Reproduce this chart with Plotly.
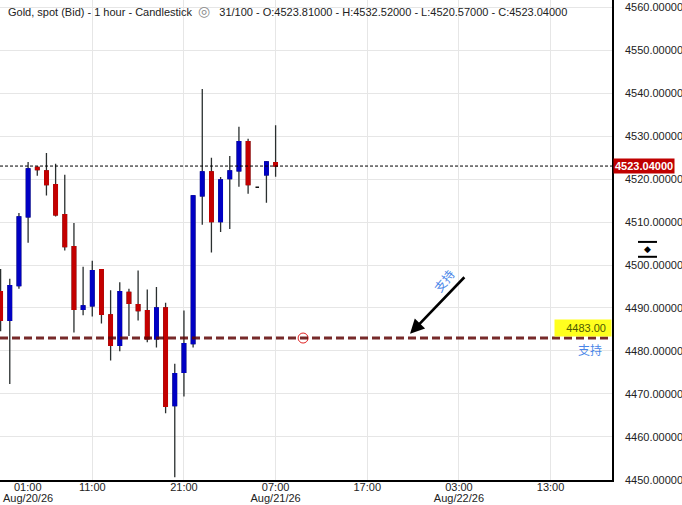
import plotly.graph_objects as go

# ---------------- data ----------------
times = [
    "2026-08-20 01:00", "2026-08-20 02:00", "2026-08-20 03:00", "2026-08-20 04:00",
    "2026-08-20 05:00", "2026-08-20 06:00", "2026-08-20 07:00", "2026-08-20 08:00",
    "2026-08-20 09:00", "2026-08-20 10:00", "2026-08-20 11:00", "2026-08-20 12:00",
    "2026-08-20 13:00", "2026-08-20 14:00", "2026-08-20 15:00", "2026-08-20 16:00",
    "2026-08-20 17:00", "2026-08-20 18:00", "2026-08-20 19:00", "2026-08-20 20:00",
    "2026-08-20 21:00", "2026-08-20 22:00", "2026-08-20 23:00", "2026-08-21 00:00",
    "2026-08-21 01:00", "2026-08-21 02:00", "2026-08-21 03:00", "2026-08-21 04:00",
    "2026-08-21 05:00", "2026-08-21 06:00", "2026-08-21 07:00",
]
open_ = [4493.8, 4487.1, 4495.2, 4511.2, 4522.7, 4521.9, 4518.7, 4511.7,
         4504.3, 4489.7, 4490.5, 4498.9, 4488.4, 4481.3, 4493.6, 4490.8,
         4489.4, 4482.8, 4490.0, 4467.3, 4475.0, 4481.7, 4516.1, 4521.7,
         4510.1, 4520.1, 4521.9, 4528.7, 4518.1, 4521.0, 4523.81]
high = [4499.1, 4496.8, 4512.1, 4524.0, 4523.0, 4526.1, 4523.6, 4521.0,
        4509.8, 4499.6, 4501.0, 4499.1, 4494.1, 4496.0, 4494.5, 4498.7,
        4494.3, 4494.9, 4491.2, 4477.0, 4489.4, 4516.3, 4541.0, 4525.0,
        4520.5, 4525.4, 4532.2, 4529.4, 4518.1, 4524.2, 4532.52]
low = [4484.6, 4472.3, 4494.5, 4505.2, 4520.8, 4516.2, 4511.3, 4503.4,
       4484.3, 4488.3, 4488.0, 4486.4, 4477.8, 4479.9, 4483.5, 4487.1,
       4482.0, 4480.8, 4465.5, 4450.6, 4469.4, 4480.8, 4509.4, 4502.9,
       4507.7, 4508.4, 4518.2, 4516.6, 4518.1, 4514.5, 4520.57]
close = [4487.1, 4495.2, 4511.2, 4522.4, 4522.2, 4518.7, 4511.7, 4504.3,
         4489.7, 4490.5, 4498.7, 4488.5, 4481.3, 4493.8, 4491.1, 4489.4,
         4482.8, 4490.0, 4467.1, 4474.7, 4481.7, 4516.1, 4521.7, 4510.1,
         4519.8, 4521.9, 4528.7, 4518.7, 4518.1, 4524.0, 4523.04]

x_tick_vals = ["2026-08-20 01:00", "2026-08-20 11:00", "2026-08-20 21:00",
               "2026-08-21 07:00", "2026-08-21 17:00", "2026-08-22 03:00",
               "2026-08-22 13:00"]
x_tick_time_text = ["", "11:00", "21:00", "07:00", "17:00", "03:00", "13:00"]
x_tick_date_vals = ["2026-08-21 07:00", "2026-08-22 03:00"]
x_tick_date_text = ["Aug/21/26", "Aug/22/26"]
first_tick_time = "01:00"
first_tick_date = "Aug/20/26"

x_range = ["2026-08-20 00:56", "2026-08-22 19:42"]
y_range = [4449.95, 4561.7]

support_level = 4483.00
support_marker_time = "2026-08-21 10:00"
arrow_head = ("2026-08-21 21:40", 4484.0)
arrow_tail = ("2026-08-22 03:45", 4497.5)
arrow_label_pos = ("2026-08-22 01:20", 4496.3)

title_text = ("Gold, spot (Bid) - 1 hour - Candlestick&nbsp;&nbsp;"
              "<span style='color:#8a8a8a;font-size:14px'>&#9678;</span>&nbsp;&nbsp;"
              " 31/100 - O:4523.81000 - H:4532.52000 - L:4520.57000 - C:4523.04000")

BLUE = "#0000C4"
RED = "#C40000"
WICK = "#2a2f2f"
FONT = "Liberation Sans, Arial, sans-serif"
TXT = "#222222"

# ---------------- traces ----------------
normal = [i for i in range(len(times)) if open_[i] != close[i]]
doji = [i for i in range(len(times)) if open_[i] == close[i]]

def pick(arr, idx):
    return [arr[i] for i in idx]

fig = go.Figure()

# wicks + bodies
fig.add_trace(go.Candlestick(
    x=pick(times, normal), open=pick(open_, normal), high=pick(high, normal),
    low=pick(low, normal), close=pick(close, normal),
    increasing=dict(line=dict(color=WICK, width=1.3), fillcolor=BLUE),
    decreasing=dict(line=dict(color=WICK, width=1.3), fillcolor=RED),
    whiskerwidth=0, showlegend=False, hoverinfo="skip",
))
# body overlay (hides dark outline)
body_hi = [max(open_[i], close[i]) for i in normal]
body_lo = [min(open_[i], close[i]) for i in normal]
fig.add_trace(go.Candlestick(
    x=pick(times, normal), open=pick(open_, normal), high=body_hi,
    low=body_lo, close=pick(close, normal),
    increasing=dict(line=dict(color=BLUE, width=1.3), fillcolor=BLUE),
    decreasing=dict(line=dict(color=RED, width=1.3), fillcolor=RED),
    whiskerwidth=0, showlegend=False, hoverinfo="skip",
))
# doji
fig.add_trace(go.Candlestick(
    x=pick(times, doji), open=pick(open_, doji), high=pick(high, doji),
    low=pick(low, doji), close=pick(close, doji),
    increasing=dict(line=dict(color="#111111", width=1.6), fillcolor="#111111"),
    decreasing=dict(line=dict(color="#111111", width=1.6), fillcolor="#111111"),
    whiskerwidth=0, showlegend=False, hoverinfo="skip",
))

# red circle on the support line
fig.add_trace(go.Scatter(
    x=[support_marker_time], y=[support_level], mode="markers",
    marker=dict(symbol="circle-open", size=10, color="#e02020", line=dict(width=1)),
    showlegend=False, hoverinfo="skip",
))

# invisible trace so the date-label axis is drawn
fig.add_trace(go.Scatter(
    x=x_range, y=[None, None], xaxis="x2", mode="lines",
    showlegend=False, hoverinfo="skip",
))

# ---------------- shapes ----------------
shapes = [
    dict(type="line", xref="paper", x0=0, x1=1, yref="y", y0=close[-1], y1=close[-1],
         line=dict(color="black", width=1, dash="3px,2px"), layer="above"),
    dict(type="line", xref="paper", x0=0, x1=1, yref="y", y0=support_level, y1=support_level,
         line=dict(color="rgba(95,5,5,0.85)", width=3, dash="8px,4px"), layer="above"),
    dict(type="line", xref="paper", yref="paper", x0=1.0425, x1=1.0735,
         y0=0.496, y1=0.496, line=dict(color="black", width=2)),
    dict(type="line", xref="paper", yref="paper", x0=1.0425, x1=1.0735,
         y0=0.465, y1=0.465, line=dict(color="black", width=2)),
]

# ---------------- annotations ----------------
annotations = [
    dict(xref="paper", yref="paper", x=0, y=1, xanchor="left", yanchor="top",
         xshift=6, yshift=-1, text=title_text, showarrow=False,
         font=dict(family=FONT, size=11, color=TXT)),
    dict(xref="paper", yref="paper", x=0, y=0, xanchor="left", yanchor="middle",
         xshift=12, yshift=-7, text=first_tick_time, showarrow=False,
         font=dict(family=FONT, size=11, color=TXT)),
    dict(xref="paper", yref="paper", x=0, y=0, xanchor="left", yanchor="middle",
         xshift=1, yshift=-18, text=first_tick_date, showarrow=False,
         font=dict(family=FONT, size=11, color=TXT)),
    dict(xref="paper", yref="y", x=1, y=close[-1], xanchor="left", yanchor="middle",
         xshift=1, text="<b>4523.04000</b>", showarrow=False, bgcolor="#C00000",
         borderpad=1, font=dict(family=FONT, size=11, color="white")),
    dict(xref="paper", yref="y", x=1, y=support_level, xanchor="right", yanchor="bottom",
         yshift=1, text="&nbsp;&nbsp;&nbsp;4483.00&nbsp;", showarrow=False, bgcolor="#FFFF1E",
         borderpad=2, font=dict(family=FONT, size=11, color="#4d5a00")),
    dict(xref="paper", yref="y", x=1, y=support_level, xanchor="right", yanchor="top",
         xshift=-8, yshift=-1, text="支持", showarrow=False,
         font=dict(family="Noto Sans CJK SC", size=12, color="#4a86e8")),
    dict(xref="x", yref="y", x=arrow_label_pos[0], y=arrow_label_pos[1], text="支持",
         textangle=-52, showarrow=False,
         font=dict(family="Noto Sans CJK SC", size=12, color="#4a86e8")),
    dict(xref="x", yref="y", x=arrow_head[0], y=arrow_head[1],
         axref="x", ayref="y", ax=arrow_tail[0], ay=arrow_tail[1],
         showarrow=True, arrowhead=2, arrowsize=1.1, arrowwidth=2.6,
         arrowcolor="black", text=""),
    dict(xref="paper", yref="paper", x=1.0585, y=0.4805, xanchor="center", yanchor="middle",
         text="&#9670;", showarrow=False,
         font=dict(family="DejaVu Sans", size=9, color="black")),
]

fig.update_layout(
    width=682, height=505,
    margin=dict(l=0, r=70, t=0, b=25),
    paper_bgcolor="white", plot_bgcolor="white",
    boxgap=0.45,
    shapes=shapes, annotations=annotations,
    showlegend=False,
    font=dict(family=FONT, size=11, color=TXT),
    xaxis=dict(
        type="date", range=x_range, rangeslider=dict(visible=False),
        tickvals=x_tick_vals, ticktext=x_tick_time_text,
        showgrid=True, gridcolor="#e6e6e6", gridwidth=1,
        showline=True, linecolor="black", linewidth=1.5,
        ticks="", zeroline=False, automargin=False, ticklabelstandoff=-4,
        tickfont=dict(family=FONT, size=11, color=TXT),
    ),
    xaxis2=dict(
        type="date", range=x_range, overlaying="x", side="bottom", anchor="y",
        tickvals=x_tick_date_vals, ticktext=x_tick_date_text,
        showgrid=False, showline=False, ticks="", zeroline=False,
        automargin=False, ticklabelstandoff=10,
        tickfont=dict(family=FONT, size=11, color=TXT),
    ),
    yaxis=dict(
        side="right", range=y_range, dtick=10, tick0=4450,
        tickformat=".5f",
        showgrid=True, gridcolor="#e6e6e6", gridwidth=1,
        showline=True, linecolor="black", linewidth=1.5,
        ticks="", zeroline=False, ticklabelstandoff=9, automargin=False,
        tickfont=dict(family=FONT, size=11, color=TXT),
    ),
)

fig.write_html("out.html", config={"displayModeBar": False},
               post_script="document.body.style.margin='0px';")
